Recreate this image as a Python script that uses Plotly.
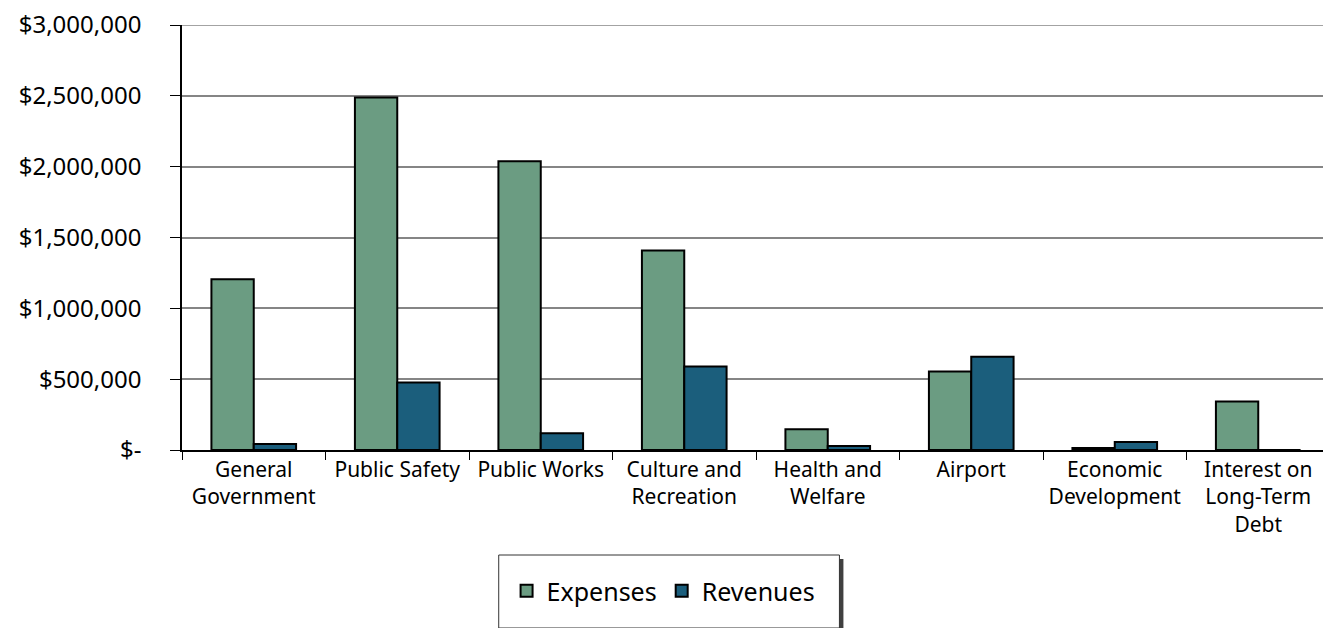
import plotly.graph_objects as go

categories = ["General<br>Government", "Public Safety", "Public Works", "Culture and<br>Recreation",
              "Health and<br>Welfare", "Airport", "Economic<br>Development", "Interest on<br>Long-Term<br>Debt"]
expenses = [1205000, 2488000, 2039000, 1409000, 147000, 554000, 14000, 343000]
revenues = [42000, 477000, 119000, 589000, 28000, 659000, 56000, 0]
ytick_vals = [0, 500000, 1000000, 1500000, 2000000, 2500000, 3000000]
ytick_text = ["$-", "$500,000", "$1,000,000", "$1,500,000", "$2,000,000", "$2,500,000", "$3,000,000"]

FONT = "Noto Sans"
fig = go.Figure()
fig.add_trace(go.Bar(x=categories, y=expenses, name="Expenses",
                     marker=dict(color="#6B9C82", line=dict(color="#000000", width=2))))
fig.add_trace(go.Bar(x=categories, y=revenues, name="Revenues",
                     marker=dict(color="#1B5E7C", line=dict(color="#000000", width=2))))

# top gridline at the axis maximum
fig.add_shape(type="line", xref="paper", yref="y", x0=0, x1=1, y0=ytick_vals[-1], y1=ytick_vals[-1],
              line=dict(color="#858585", width=1.5), layer="below")

# legend frame with shadow (paper coords); page coords of plot area: x 181..1330, y 25..450
W, H = 1149, 425
def px(xp): return (xp - 181) / W
def py(yp): return (450 - yp) / H
fig.add_shape(type="rect", xref="paper", yref="paper", x0=px(502), x1=px(843), y0=py(632), y1=py(559),
              fillcolor="#404040", line=dict(width=0), layer="below")
fig.add_shape(type="rect", xref="paper", yref="paper", x0=px(498), x1=px(839), y0=py(628), y1=py(555),
              fillcolor="white", line=dict(color="#333333", width=1), layer="below")

fig.update_layout(
    width=1323, height=620,
    margin=dict(l=174, r=1, t=17, b=178, autoexpand=False),
    paper_bgcolor="white", plot_bgcolor="white",
    barmode="group", bargap=0.41, bargroupgap=0,
    font=dict(family=FONT, color="#000000"),
    showlegend=True,
    legend=dict(orientation="h", x=px(663), xanchor="center", y=py(591), yanchor="middle",
                bgcolor="rgba(0,0,0,0)", borderwidth=0, font=dict(size=25, family=FONT),
                itemwidth=30, traceorder="normal"),
    xaxis=dict(tickfont=dict(size=21, family=FONT), showline=True, linecolor="#000000", linewidth=1.5,
               ticks="outside", tickson="boundaries", ticklen=8, tickcolor="#000000",
               showgrid=False, fixedrange=True, automargin=False),
    yaxis=dict(range=[0, 3000000], tickvals=ytick_vals, ticktext=ytick_text,
               tickfont=dict(size=24, family=FONT), showline=True, linecolor="#000000", linewidth=1.5,
               ticks="outside", ticklen=10, tickcolor="#000000", ticklabelstandoff=24,
               ticklabeloverflow="allow", automargin=False,
               showgrid=True, gridcolor="#858585", gridwidth=1.5, zeroline=False, fixedrange=True),
)
fig.write_html("out.html")
